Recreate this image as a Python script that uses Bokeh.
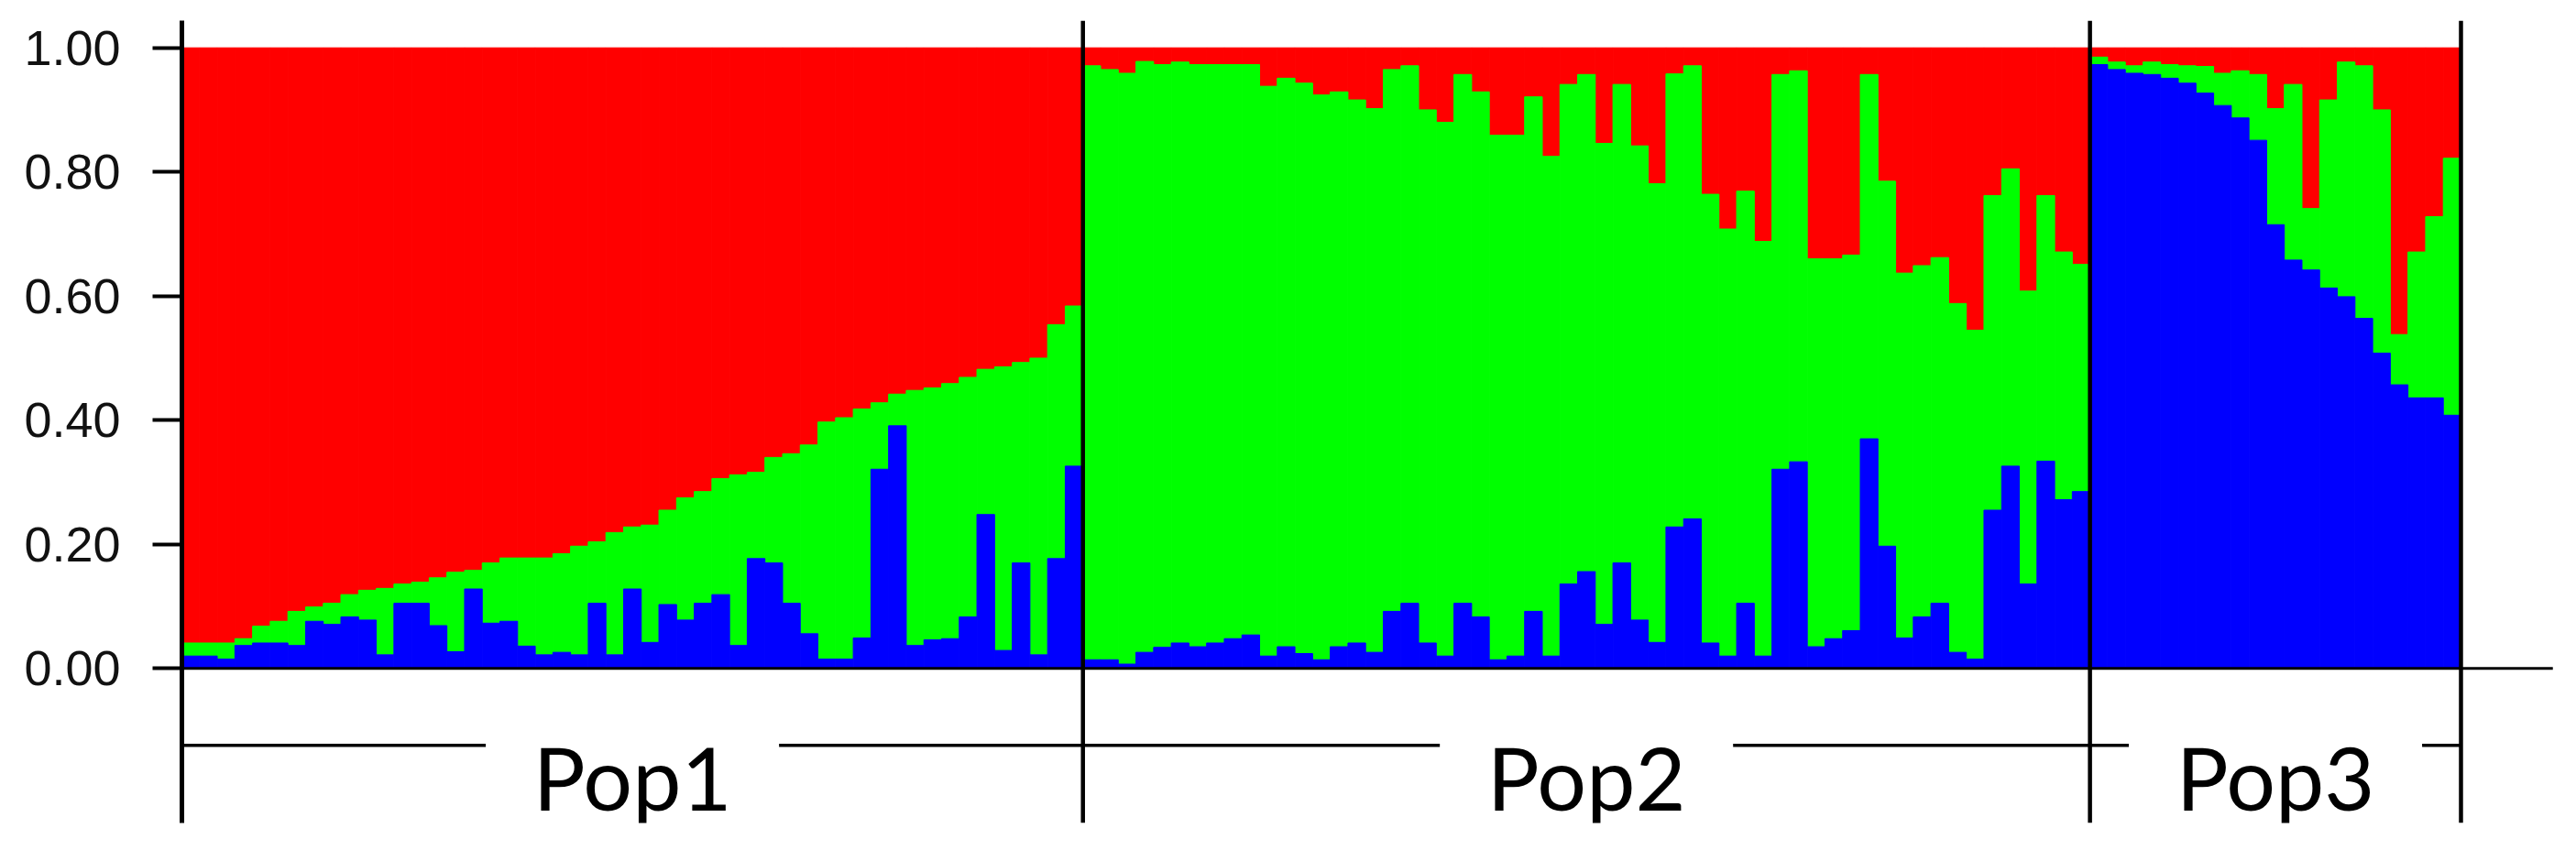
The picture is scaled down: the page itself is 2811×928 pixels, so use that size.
from bokeh.plotting import figure
from bokeh.models import LinearAxis, FixedTicker, PrintfTickFormatter, Range1d, ColumnDataSource
from bokeh.core.properties import value
from bokeh.embed import file_html
from bokeh.resources import INLINE

# ---------------- data ----------------
pop_names = ["Pop1", "Pop2", "Pop3"]
y_ticks = [0.0, 0.2, 0.4, 0.6, 0.8, 1.0]

# membership proportion in the blue cluster
pop1_blue = [0.020, 0.020, 0.015, 0.037, 0.041, 0.041, 0.037, 0.076, 0.071, 0.083,
             0.078, 0.022, 0.105, 0.105, 0.069, 0.027, 0.128, 0.073, 0.076, 0.036,
             0.022, 0.026, 0.022, 0.105, 0.022, 0.128, 0.042, 0.103, 0.078, 0.105,
             0.119, 0.037, 0.177, 0.170, 0.105, 0.056, 0.015, 0.015, 0.049, 0.321,
             0.391, 0.037, 0.046, 0.048, 0.083, 0.248, 0.029, 0.170, 0.022, 0.177,
             0.326]
# membership proportion in the green cluster
pop1_green = [0.021, 0.021, 0.026, 0.011, 0.027, 0.035, 0.055, 0.023, 0.034, 0.036,
              0.048, 0.107, 0.031, 0.034, 0.077, 0.128, 0.030, 0.097, 0.102, 0.142,
              0.156, 0.159, 0.175, 0.099, 0.197, 0.100, 0.189, 0.152, 0.197, 0.180,
              0.187, 0.275, 0.139, 0.170, 0.241, 0.304, 0.382, 0.389, 0.369, 0.107,
              0.051, 0.411, 0.406, 0.411, 0.386, 0.234, 0.457, 0.323, 0.478, 0.377,
              0.258]

pop2_blue = [0.014, 0.014, 0.007, 0.026, 0.034, 0.041, 0.035, 0.041, 0.048, 0.054,
             0.020, 0.035, 0.024, 0.014, 0.035, 0.041, 0.026, 0.092, 0.105, 0.041,
             0.020, 0.105, 0.083, 0.014, 0.020, 0.092, 0.020, 0.136, 0.156, 0.071,
             0.170, 0.078, 0.042, 0.228, 0.241, 0.041, 0.020, 0.105, 0.020, 0.321,
             0.333, 0.035, 0.048, 0.061, 0.370, 0.197, 0.049, 0.083, 0.105, 0.026,
             0.015, 0.255, 0.326, 0.136, 0.334, 0.272, 0.285]
pop2_green = [0.957, 0.951, 0.952, 0.952, 0.939, 0.936, 0.938, 0.932, 0.925, 0.919,
              0.918, 0.916, 0.919, 0.910, 0.894, 0.875, 0.876, 0.873, 0.866, 0.859,
              0.860, 0.852, 0.846, 0.845, 0.839, 0.829, 0.805, 0.805, 0.801, 0.775,
              0.771, 0.764, 0.739, 0.730, 0.730, 0.723, 0.688, 0.664, 0.668, 0.636,
              0.630, 0.625, 0.612, 0.605, 0.587, 0.588, 0.588, 0.566, 0.557, 0.562,
              0.530, 0.507, 0.479, 0.472, 0.428, 0.399, 0.366]

pop3_blue = [0.973, 0.965, 0.959, 0.957, 0.951, 0.943, 0.927, 0.907, 0.887, 0.851,
             0.715, 0.658, 0.642, 0.613, 0.599, 0.564, 0.508, 0.457, 0.436, 0.436,
             0.408]
pop3_green = [0.012, 0.012, 0.012, 0.020, 0.022, 0.028, 0.043, 0.052, 0.076, 0.106,
              0.187, 0.283, 0.099, 0.303, 0.378, 0.407, 0.392, 0.081, 0.235, 0.292,
              0.414]

# ---------------- assemble ----------------
blue = pop1_blue + pop2_blue + pop3_blue
green = pop1_green + pop2_green + pop3_green
sizes = [len(pop1_blue), len(pop2_blue), len(pop3_blue)]
n = len(blue)

src = ColumnDataSource(dict(
    left=[i for i in range(n)],
    right=[i + 1 for i in range(n)],
    zero=[0.0] * n,
    b_top=blue,
    g_top=[b + g for b, g in zip(blue, green)],
    one=[1.0] * n,
))

# ---------------- layout / style ----------------
BAR_PX = 19.279
W, H = 2800, 920
ML, MT, MB = 198, 22, 22
frame_w = W - ML
x_end = frame_w / BAR_PX
Y_LO, Y_HI = -0.249, 1.0438
RED, GREEN, BLUE = "#FF0000", "#00FF00", "#0000FF"

p = figure(width=W, height=H,
           x_range=Range1d(0, x_end), y_range=Range1d(Y_LO, Y_HI),
           x_axis_type=None, y_axis_type=None,
           toolbar_location=None, output_backend="svg",
           min_border_left=ML, min_border_right=0,
           min_border_top=MT, min_border_bottom=MB)
p.outline_line_color = None
p.background_fill_color = "white"
p.border_fill_color = "white"

yax = LinearAxis(ticker=FixedTicker(ticks=y_ticks),
                 formatter=PrintfTickFormatter(format="%.2f"))
yax.axis_line_width = 5
yax.axis_line_color = "black"
yax.major_tick_out = 32
yax.major_tick_in = 0
yax.major_tick_line_width = 4
yax.minor_tick_out = 0
yax.minor_tick_in = 0
yax.major_label_text_font = "Liberation Sans"
yax.major_label_text_font_size = "54px"
yax.major_label_text_color = "#111111"
yax.major_label_standoff = 35
p.add_layout(yax, "left")

# stacked bars
p.quad(left="left", right="right", bottom="g_top", top="one", source=src,
       fill_color=RED, line_color=RED, line_width=1)
p.quad(left="left", right="right", bottom="b_top", top="g_top", source=src,
       fill_color=GREEN, line_color=GREEN, line_width=1)
p.quad(left="left", right="right", bottom="zero", top="b_top", source=src,
       fill_color=BLUE, line_color=BLUE, line_width=1)

# baseline at y = 0
p.segment(x0=[0], y0=[0], x1=[134.2], y1=[0], line_color="black", line_width=3)

# population separators, brackets and labels
bounds = [0]
for s in sizes:
    bounds.append(bounds[-1] + s)

sep_x = bounds[1:]
p.segment(x0=sep_x, y0=[Y_LO] * len(sep_x), x1=sep_x, y1=[Y_HI] * len(sep_x),
          line_color="black", line_width=4.5)

BRACKET_Y = -0.124
LABEL_Y = -0.175
GAP = 8.3
bx0, bx1, lx, ly = [], [], [], []
for i, name in enumerate(pop_names):
    s, e = bounds[i], bounds[i + 1]
    c = (s + e) / 2
    bx0 += [s, c + GAP]
    bx1 += [c - GAP, e]
    lx.append(c)
    ly.append(LABEL_Y)
p.segment(x0=bx0, y0=[BRACKET_Y] * len(bx0), x1=bx1, y1=[BRACKET_Y] * len(bx1),
          line_color="black", line_width=3.5)
p.text(x=lx, y=ly, text=pop_names, text_align="center", text_baseline="alphabetic",
       text_font=value("Lato"), text_font_size="95px", text_color="black")

open("out.html", "w").write(file_html(p, INLINE))
